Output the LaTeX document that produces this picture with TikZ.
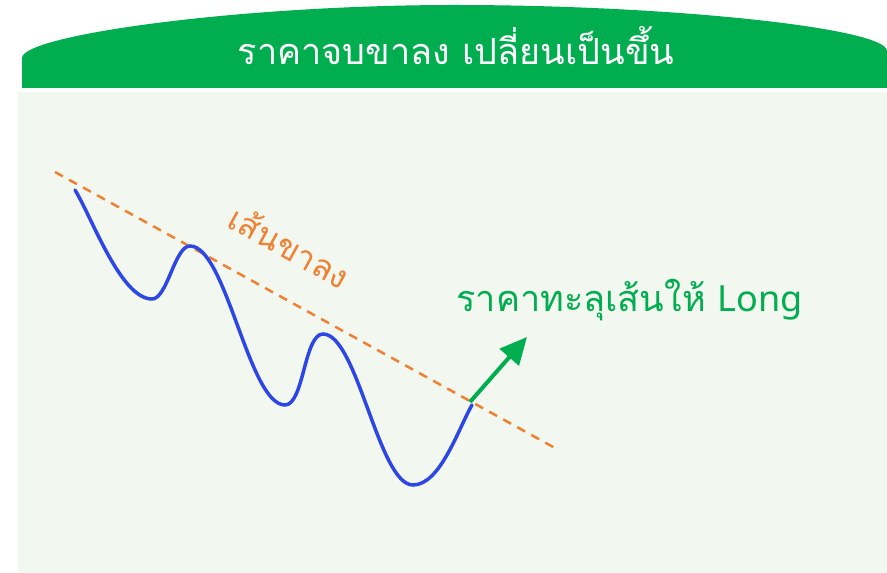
\documentclass[tikz,border=0pt]{standalone}
\usepackage{fontspec}
\newfontfamily\thaifont[Script=Thai]{Loma}
\newfontfamily\latinfont{Noto Sans}
\usetikzlibrary{arrows.meta}
\definecolor{hdrgreen}{RGB}{0,173,79}
\definecolor{panelbg}{RGB}{242,247,239}
\definecolor{trendorange}{RGB}{240,128,50}
\definecolor{priceblue}{RGB}{45,70,230}
\tikzset{
  pricecurve/.style={draw=priceblue, line width=3.5pt, line cap=round},
  trendline/.style={draw=trendorange, line width=2.5pt, dash pattern=on 9pt off 7pt},
  breakarrow/.style={draw=hdrgreen, line width=4pt, -{Triangle[length=27pt,width=25pt]}},
  titletext/.style={text=white, font=\thaifont\fontsize{36}{42}\selectfont},
  trendlabel/.style={text=trendorange, font=\thaifont\fontsize{33}{40}\selectfont},
  notetext/.style={text=hdrgreen, font=\thaifont\fontsize{36}{42}\selectfont},
}
\begin{document}
\begin{tikzpicture}[x=1pt,y=1pt]
\useasboundingbox (0,0) rectangle (887,573);
\fill[white] (0,0) rectangle (887,573);
% panel
\fill[panelbg] (18,0) rectangle (887,481);
% header
\fill[hdrgreen] (22,485) -- (22,515) .. controls (22,538) and (240,568) .. (455,568)
  .. controls (670,568) and (887,545) .. (887,522) -- (887,485) -- cycle;
\node[titletext] (title) at (456,527) {ราคาจบขาลง เปลี่ยนเป็นขึ้น};
% trend line
\coordinate (tl1) at (55,401);
\coordinate (tl2) at (555,125);
\draw[trendline] (tl1) -- (tl2);
% price curve
\coordinate (p0) at (75,383);
\coordinate (p1) at (152,274);
\coordinate (p2) at (190,327);
\coordinate (p3) at (285,168);
\coordinate (p4) at (323,239);
\coordinate (p5) at (413,88);
\coordinate (p6) at (472,168);
\draw[pricecurve] (p0) to[out=-58,in=180,looseness=0.6] (p1)
  to[out=0,in=180,looseness=0.6] (p2)
  to[out=0,in=180,looseness=0.5] (p3) to[out=0,in=180,looseness=0.6] (p4)
  to[out=0,in=180,looseness=0.5] (p5)
  to[out=0,in=240,looseness=0.7] (p6);
% arrow
\coordinate (a0) at (470,171);
\coordinate (a1) at (527,236);
\draw[breakarrow] (a0) -- (a1);
% labels
\node[trendlabel, rotate=-29] (tlabel) at (290,327) {เส้นขาลง};
\node[notetext, anchor=west] (note) at (453,273) {ราคาทะลุเส้นให้ {\latinfont Long}};
\end{tikzpicture}
\end{document}
